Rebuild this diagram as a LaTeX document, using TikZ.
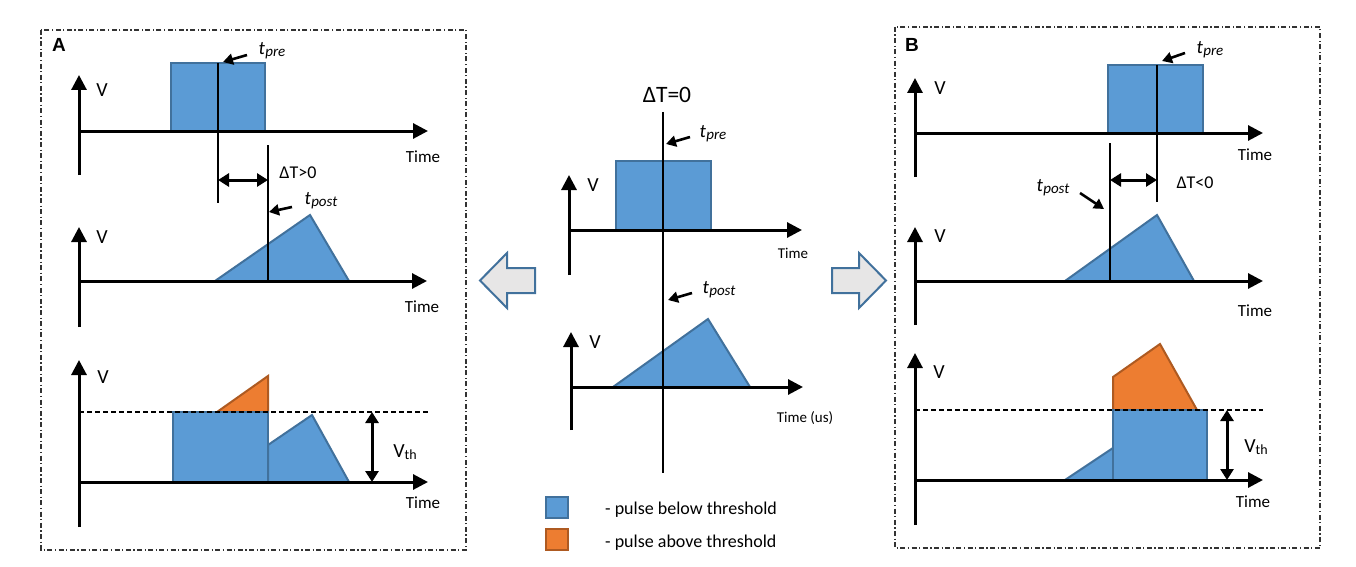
\documentclass[tikz,border=0pt]{standalone}
\usepackage{fontspec}
\setmainfont{Carlito}
\newfontfamily\labfont{Liberation Sans}
\usetikzlibrary{arrows.meta}
\definecolor{pblue}{HTML}{5B9BD5}
\definecolor{pblueline}{HTML}{41719C}
\definecolor{porange}{HTML}{ED7D31}
\definecolor{porangeline}{HTML}{AE5A21}
\definecolor{bgray}{HTML}{E7E6E6}
\newcommand{\fs}[1]{\fontsize{#1}{#1}\selectfont}
\newcommand{\tlab}[1]{{\fs{19}\itshape t\kern0.3pt\raisebox{-2pt}{\fs{15}\itshape #1}}}
\newcommand{\vth}{{\fs{20}V\raisebox{-2.5pt}{\fs{14}th}}}
\tikzset{
  panel/.style={draw=black!80, line width=1.2pt, dash pattern=on 5pt off 2.5pt on 1.2pt off 2.5pt},
  axis/.style={line width=3pt, -{Triangle[length=15pt,width=15pt]}},
  tline/.style={line width=1.4pt},
  thr/.style={line width=1.3pt, dash pattern=on 5pt off 3pt},
  bpulse/.style={fill=pblue, draw=pblueline, line width=2pt, line join=miter},
  opulse/.style={fill=porange, draw=porangeline, line width=2pt, line join=miter},
  labarrow/.style={line width=2.6pt, -{Triangle[length=10pt,width=11pt]}},
  dbl/.style={line width=3pt, {Triangle[length=11pt,width=13pt]}-{Triangle[length=11pt,width=13pt]}},
  blockarrow/.style={fill=bgray, draw=pblueline, line width=2pt, line join=miter},
  plabel/.style={font=\labfont\bfseries\fs{19}, inner sep=0pt},
  vlab/.style={font=\fs{20}, inner sep=0pt},
  timelab/.style={font=\fs{17}, inner sep=0pt},
  smalltime/.style={font=\fs{15}, inner sep=0pt},
  dtlab/.style={font=\fs{18}, inner sep=0pt},
  txt/.style={inner sep=0pt},
}
\begin{document}
\begin{tikzpicture}[x=1pt,y=-1pt]
\useasboundingbox (0,0) rectangle (1356,567);
\fill[white] (0,0) rectangle (1356,567);

% ===== Panel A =====
\draw[panel] (41,30) rectangle (466,550);
\node[plabel] (labA) at (59,45) {A};
% plot A1
\draw[bpulse] (171,63) rectangle (265,131);
\draw[axis] (79,175) -- (79,75);
\draw[axis] (79,131) -- (428,131);
\node[vlab] (a1v) at (102,90) {V};
\node[timelab] (a1t) at (423,157) {Time};
\draw[tline] (218,63) -- (218,203);
\node[txt] (a1pre) at (272,51) {\tlab{pre}};
\coordinate (a1preS) at (247,55);
\coordinate (a1preE) at (223,62);
\draw[labarrow] (a1preS) -- (a1preE);
\draw[tline] (268,145) -- (268,281);
\coordinate (a1dL) at (218,180);
\coordinate (a1dR) at (268,180);
\draw[dbl] (a1dL) -- (a1dR);
\node[dtlab] (a1dt) at (298,173) {ΔT>0};
% plot A2
\draw[bpulse] (215,281) -- (310,215) -- (349,281) -- cycle;
\draw[axis] (79,327) -- (79,227);
\draw[axis] (79,281) -- (427,281);
\draw[tline] (268,145) -- (268,281);
\node[vlab] (a2v) at (102,237) {V};
\node[timelab] (a2t) at (422,307) {Time};
\node[txt] (a2post) at (321,201) {\tlab{post}};
\coordinate (a2postS) at (292,207);
\coordinate (a2postE) at (269,212);
\draw[labarrow] (a2postS) -- (a2postE);
% plot A3
\draw[opulse] (217,412) -- (268,376) -- (268,412) -- cycle;
\draw[bpulse] (173,412) rectangle (268,482);
\draw[bpulse] (268,445) -- (312,415) -- (349,482) -- (268,482) -- cycle;
\draw[thr] (79,412) -- (428,412);
\draw[axis] (79,527) -- (79,360);
\draw[axis] (79,482) -- (428,482);
\node[vlab] (a3v) at (103,377) {V};
\node[timelab] (a3t) at (423,503) {Time};
\coordinate (a3vt) at (372,412);
\coordinate (a3vb) at (372,482);
\draw[dbl] (a3vt) -- (a3vb);
\node[txt] (a3vth) at (405,452) {\vth};

% ===== Center =====
\node[txt, font=\fs{23.5}] (cdt) at (667,95) {ΔT=0};
\draw[bpulse] (616,161) rectangle (711,230);
\draw[axis] (569,275) -- (569,175);
\draw[axis] (569,230) -- (802,230);
\node[vlab] (c1v) at (593,185) {V};
\node[smalltime] (c1t) at (793,253) {Time};
\node[txt] (c1pre) at (713,134) {\tlab{pre}};
\coordinate (c1preS) at (690,137);
\coordinate (c1preE) at (666,144);
\draw[labarrow] (c1preS) -- (c1preE);
\draw[bpulse] (613,387) -- (708,319) -- (750,387) -- cycle;
\draw[axis] (571,430) -- (571,332);
\draw[axis] (571,387) -- (803,387);
\node[vlab] (c2v) at (595,342) {V};
\node[smalltime] (c2t) at (805,418) {Time (us)};
\node[txt] (c2post) at (719,290) {\tlab{post}};
\coordinate (c2postS) at (692,293);
\coordinate (c2postE) at (668,300);
\draw[labarrow] (c2postS) -- (c2postE);
\draw[tline] (663,112) -- (663,473);
% block arrows
\draw[blockarrow] (480,280.5) -- (507,253) -- (507,268) -- (535,268) -- (535,293) -- (507,293) -- (507,308) -- cycle;
\draw[blockarrow] (886,280.5) -- (859,253) -- (859,268) -- (832,268) -- (832,293) -- (859,293) -- (859,308) -- cycle;
% legend
\draw[fill=pblue, draw=pblueline, line width=1.5pt] (546,497) rectangle (568,518);
\draw[fill=porange, draw=porangeline, line width=1.5pt] (546,529) rectangle (568,550);
\node[txt, font=\fs{18}, anchor=west] (leg1) at (605,510) {- pulse below threshold};
\node[txt, font=\fs{18}, anchor=west] (leg2) at (605,543) {- pulse above threshold};

% ===== Panel B =====
\draw[panel] (895,27) rectangle (1320,548);
\node[plabel] (labB) at (912,45) {B};
% plot B1
\draw[bpulse] (1108,65) rectangle (1203,133);
\draw[axis] (915,177) -- (915,78);
\draw[axis] (915,133) -- (1263,133);
\node[vlab] (b1v) at (940,88) {V};
\node[timelab] (b1t) at (1255,155) {Time};
\draw[tline] (1157,65) -- (1157,202);
\node[txt] (b1pre) at (1210,50) {\tlab{pre}};
\coordinate (b1preS) at (1185,53);
\coordinate (b1preE) at (1162,61);
\draw[labarrow] (b1preS) -- (b1preE);
\coordinate (b1dL) at (1110,180);
\coordinate (b1dR) at (1157,180);
\draw[dbl] (b1dL) -- (b1dR);
\node[dtlab] (b1dt) at (1195,183) {ΔT<0};
% plot B2
\draw[bpulse] (1065,281) -- (1157,215) -- (1194,281) -- cycle;
\draw[axis] (915,325) -- (915,227);
\draw[axis] (915,281) -- (1263,281);
\draw[tline] (1110,143) -- (1110,281);
\node[vlab] (b2v) at (940,236) {V};
\node[timelab] (b2t) at (1255,311) {Time};
\node[txt] (b2post) at (1053,188) {\tlab{post}};
\coordinate (b2postS) at (1080,193);
\coordinate (b2postE) at (1104,209);
\draw[labarrow] (b2postS) -- (b2postE);
% plot B3
\draw[bpulse] (1065,480) -- (1113,448) -- (1113,480) -- cycle;
\draw[opulse] (1113,410) -- (1113,377) -- (1160,344) -- (1197,410) -- cycle;
\draw[bpulse] (1113,410) rectangle (1207,480);
\draw[thr] (915,410) -- (1263,410);
\draw[axis] (915,525) -- (915,353);
\draw[axis] (915,480) -- (1263,480);
\node[vlab] (b3v) at (939,372) {V};
\node[timelab] (b3t) at (1253,502) {Time};
\coordinate (b3vt) at (1227,410);
\coordinate (b3vb) at (1227,480);
\draw[dbl] (b3vt) -- (b3vb);
\node[txt] (b3vth) at (1256,447) {\vth};
\end{tikzpicture}
\end{document}
